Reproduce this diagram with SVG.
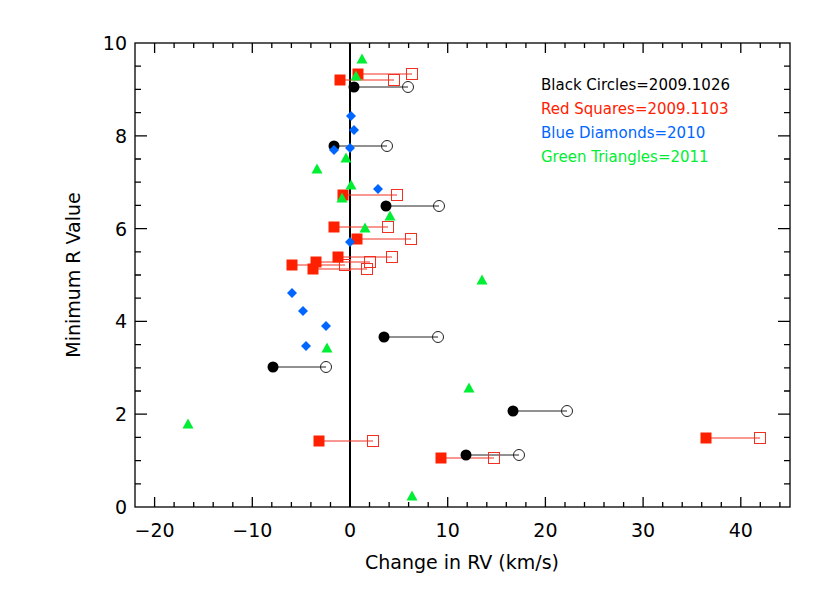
<svg xmlns="http://www.w3.org/2000/svg" width="830" height="593" viewBox="0 0 830 593">
<style>
text{font-family:"DejaVu Sans","Liberation Sans",sans-serif;fill:#000}
.tk{font-size:19px}
.ax{stroke:#000;stroke-width:1.3;fill:none}
.bl{stroke:#222;stroke-width:1}
.rl{stroke:#f03020;stroke-width:1}
.bo{fill:none;stroke:#222;stroke-width:1}
.ro{fill:none;stroke:#f03020;stroke-width:1}
.bf{fill:#000}
.rf{fill:#ff2000}
.d{fill:#0066ff}
.g{fill:#00ee33}
</style>
<defs>
<circle id="bc" r="5.5"/>
<rect id="sq" x="-5.5" y="-5.5" width="11" height="11"/>
<path id="dm" d="M0,-5 L5,0 L0,5 L-5,0Z"/>
<path id="tr" d="M0,-5.5 L5.5,4.5 L-5.5,4.5Z"/>
</defs>
<rect width="830" height="593" fill="#fff"/>
<g id="axes">
<rect class="ax" x="135" y="43" width="655" height="464"/>
<path class="ax" d="M154.6,507v-10M252.3,507v-10M350,507v-10M447.7,507v-10M545.4,507v-10M643.1,507v-10M740.8,507v-10M154.6,43v10M252.3,43v10M350,43v10M447.7,43v10M545.4,43v10M643.1,43v10M740.8,43v10"/>
<path class="ax" d="M174.1,507v-5M193.7,507v-5M213.2,507v-5M232.8,507v-5M271.8,507v-5M291.4,507v-5M310.9,507v-5M330.5,507v-5M369.5,507v-5M389.1,507v-5M408.6,507v-5M428.2,507v-5M467.2,507v-5M486.8,507v-5M506.3,507v-5M525.9,507v-5M565,507v-5M584.5,507v-5M604,507v-5M623.6,507v-5M662.7,507v-5M682.2,507v-5M701.7,507v-5M721.3,507v-5M760.3,507v-5M779.9,507v-5M174.1,43v5M193.7,43v5M213.2,43v5M232.8,43v5M271.8,43v5M291.4,43v5M310.9,43v5M330.5,43v5M369.5,43v5M389.1,43v5M408.6,43v5M428.2,43v5M467.2,43v5M486.8,43v5M506.3,43v5M525.9,43v5M565,43v5M584.5,43v5M604,43v5M623.6,43v5M662.7,43v5M682.2,43v5M701.7,43v5M721.3,43v5M760.3,43v5M779.9,43v5"/>
<path class="ax" d="M135,414.2h12M135,321.4h12M135,228.6h12M135,135.8h12M790,414.2h-12M790,321.4h-12M790,228.6h-12M790,135.8h-12"/>
<path class="ax" d="M135,483.8h6M135,460.6h6M135,437.4h6M135,391h6M135,367.8h6M135,344.6h6M135,298.2h6M135,275h6M135,251.8h6M135,205.4h6M135,182.2h6M135,159h6M135,112.6h6M135,89.4h6M135,66.2h6M790,483.8h-6M790,460.6h-6M790,437.4h-6M790,391h-6M790,367.8h-6M790,344.6h-6M790,298.2h-6M790,275h-6M790,251.8h-6M790,205.4h-6M790,182.2h-6M790,159h-6M790,112.6h-6M790,89.4h-6M790,66.2h-6"/>
<line x1="350" y1="43" x2="350" y2="507" stroke="#000" stroke-width="2"/>
<g class="tk" text-anchor="middle">
<text x="154.6" y="537">−20</text><text x="252.3" y="537">−10</text><text x="350" y="537">0</text><text x="447.7" y="537">10</text><text x="545.4" y="537">20</text><text x="643.1" y="537">30</text><text x="740.8" y="537">40</text>
</g>
<g class="tk" text-anchor="end">
<text x="127" y="514">0</text><text x="127" y="421">2</text><text x="127" y="328">4</text><text x="127" y="236">6</text><text x="127" y="143">8</text><text x="127" y="50">10</text>
</g>
<text x="462" y="569" font-size="19" text-anchor="middle">Change in RV (km/s)</text>
<text transform="translate(80,275) rotate(-90)" font-size="19" text-anchor="middle">Minimum R Value</text>
</g>
<g id="connectors">
<path class="bl" d="M354,87H408M334,146H387M386,206H439M384,337H438M273,367H326M513,411H567M466,455H519"/>
<path class="rl" d="M358,74H412M340,80H394M343,195H397M334,227H388M357,239H411M338,257H392M292,265H345M316,262H370M313,269H367M319,441H373M441,458H494M706,438H760"/>
</g>
<g id="red-open">
<use href="#sq" class="ro" x="412" y="74"/><use href="#sq" class="ro" x="394" y="80"/><use href="#sq" class="ro" x="397" y="195"/><use href="#sq" class="ro" x="388" y="227"/><use href="#sq" class="ro" x="411" y="239"/><use href="#sq" class="ro" x="392" y="257"/><use href="#sq" class="ro" x="345" y="265"/><use href="#sq" class="ro" x="370" y="262"/><use href="#sq" class="ro" x="367" y="269"/><use href="#sq" class="ro" x="373" y="441"/><use href="#sq" class="ro" x="494" y="458"/><use href="#sq" class="ro" x="760" y="438"/>
</g>
<g id="black-open">
<use href="#bc" class="bo" x="408" y="87"/><use href="#bc" class="bo" x="387" y="146"/><use href="#bc" class="bo" x="439" y="206"/><use href="#bc" class="bo" x="438" y="337"/><use href="#bc" class="bo" x="326" y="367"/><use href="#bc" class="bo" x="567" y="411"/><use href="#bc" class="bo" x="519" y="455"/>
</g>
<g id="red-filled">
<use href="#sq" class="rf" x="358" y="74"/><use href="#sq" class="rf" x="340" y="80"/><use href="#sq" class="rf" x="343" y="195"/><use href="#sq" class="rf" x="334" y="227"/><use href="#sq" class="rf" x="357" y="239"/><use href="#sq" class="rf" x="338" y="257"/><use href="#sq" class="rf" x="292" y="265"/><use href="#sq" class="rf" x="316" y="262"/><use href="#sq" class="rf" x="313" y="269"/><use href="#sq" class="rf" x="319" y="441"/><use href="#sq" class="rf" x="441" y="458"/><use href="#sq" class="rf" x="706" y="438"/>
</g>
<g id="black-filled">
<use href="#bc" class="bf" x="354" y="87"/><use href="#bc" class="bf" x="334" y="146"/><use href="#bc" class="bf" x="386" y="206"/><use href="#bc" class="bf" x="384" y="337"/><use href="#bc" class="bf" x="273" y="367"/><use href="#bc" class="bf" x="513" y="411"/><use href="#bc" class="bf" x="466" y="455"/>
</g>
<g id="blue-diamonds">
<use href="#dm" class="d" x="351" y="116"/><use href="#dm" class="d" x="354" y="130"/><use href="#dm" class="d" x="334" y="150"/><use href="#dm" class="d" x="350" y="148"/><use href="#dm" class="d" x="378" y="189"/><use href="#dm" class="d" x="350" y="242"/><use href="#dm" class="d" x="292" y="293"/><use href="#dm" class="d" x="303" y="311"/><use href="#dm" class="d" x="326" y="326"/><use href="#dm" class="d" x="306" y="346"/>
</g>
<g id="green-triangles">
<use href="#tr" class="g" x="362" y="59"/><use href="#tr" class="g" x="356" y="76"/><use href="#tr" class="g" x="346" y="158"/><use href="#tr" class="g" x="317" y="169"/><use href="#tr" class="g" x="351" y="185"/><use href="#tr" class="g" x="342" y="198"/><use href="#tr" class="g" x="390" y="216"/><use href="#tr" class="g" x="365" y="228"/><use href="#tr" class="g" x="327" y="348"/><use href="#tr" class="g" x="482" y="280"/><use href="#tr" class="g" x="469" y="388"/><use href="#tr" class="g" x="188" y="424"/><use href="#tr" class="g" x="412" y="496"/>
</g>
<g id="legend" font-size="15">
<text x="541" y="90">Black Circles=2009.1026</text>
<text x="541" y="114" style="fill:#ff2000">Red Squares=2009.1103</text>
<text x="541" y="138" style="fill:#0066ff">Blue Diamonds=2010</text>
<text x="541" y="162" style="fill:#00ee33">Green Triangles=2011</text>
</g>
</svg>
